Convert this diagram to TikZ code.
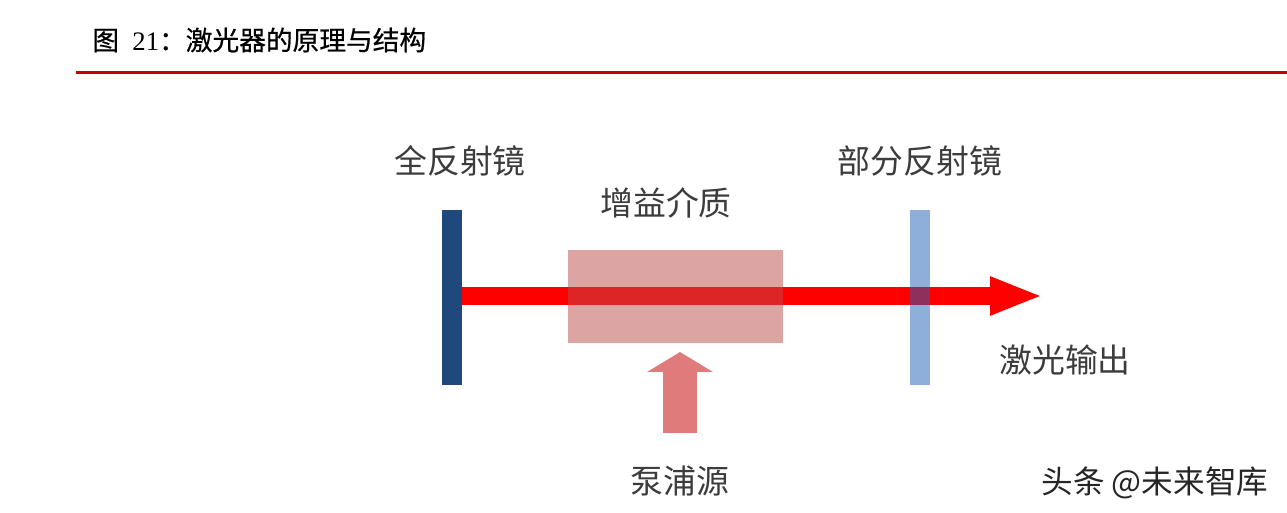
\documentclass[tikz,border=0pt]{standalone}
\usepackage{fontspec}
\setmainfont{Noto Sans CJK SC}
\newfontfamily\latserif{Liberation Serif}
\newfontfamily\titlefont[FakeBold=0.6]{Noto Sans CJK SC}
\usetikzlibrary{arrows.meta}
\definecolor{titlered}{RGB}{200,0,0}
\definecolor{darkmirror}{RGB}{31,73,125}
\definecolor{lightmirror}{RGB}{29,97,183}
\definecolor{beamred}{RGB}{255,0,0}
\definecolor{gainfill}{RGB}{188,75,75}
\definecolor{pumpred}{RGB}{224,123,123}
\definecolor{labelgray}{RGB}{60,60,60}
\tikzset{
  mirrorbox/.style={rectangle, inner sep=0pt, minimum width=0.4cm, minimum height=3.5cm},
  lbl/.style={inner sep=0pt, text=labelgray, font=\fontsize{18.7pt}{20pt}\selectfont},
  beamline/.style={draw=beamred, line width=0.36cm, line cap=butt, -{Triangle[length=1.06cm, width=0.7cm]}},
  pumpline/.style={draw=pumpred, line width=0.68cm, line cap=butt, -{Triangle[length=0.4cm, width=1.3cm]}}
}
\begin{document}
\begin{tikzpicture}[x=0.02cm,y=-0.02cm]
\useasboundingbox[fill=white] (0,0) rectangle (1287,513);
% title
\node[anchor=west, inner sep=0pt, font=\titlefont\fontsize{15.2pt}{16pt}\selectfont] (title) at (92,40) {图\hspace{0.5em}{\latserif 21}：激光器的原理与结构};
\coordinate (rulel) at (76,73);
\coordinate (ruler) at (1287,73);
\draw[titlered, line width=0.06cm] (rulel) -- (ruler);
% mirrors
\node[mirrorbox, fill=darkmirror] (lm) at (452,297.5) {};
\coordinate (out) at (1043,296);
\draw[beamline] (lm.east |- out) -- (out);
% gain medium
\node[rectangle, inner sep=0pt, minimum width=4.3cm, minimum height=1.86cm, fill=gainfill, fill opacity=0.5] (gain) at (675.5,296.5) {};
\node[mirrorbox, fill=lightmirror, fill opacity=0.5] (rm) at (920,297.5) {};
% pump
\coordinate (pumpbase) at (680,433);
\coordinate (pumptip) at (680,352);
\draw[pumpline] (pumpbase) -- (pumptip);
% labels
\node[lbl] (llbl) at (460,161) {全反射镜};
\node[lbl] (rlbl) at (920,161) {部分反射镜};
\node[lbl] (glbl) at (666,203) {增益介质};
\node[lbl] (olbl) at (1065,360) {激光输出};
\node[lbl] (plbl) at (680,481) {泵浦源};
\node[inner sep=0pt, text=black!85, font=\fontsize{18pt}{19pt}\selectfont] (wm) at (1155,483) {头条 @未来智库};
\end{tikzpicture}
\end{document}
